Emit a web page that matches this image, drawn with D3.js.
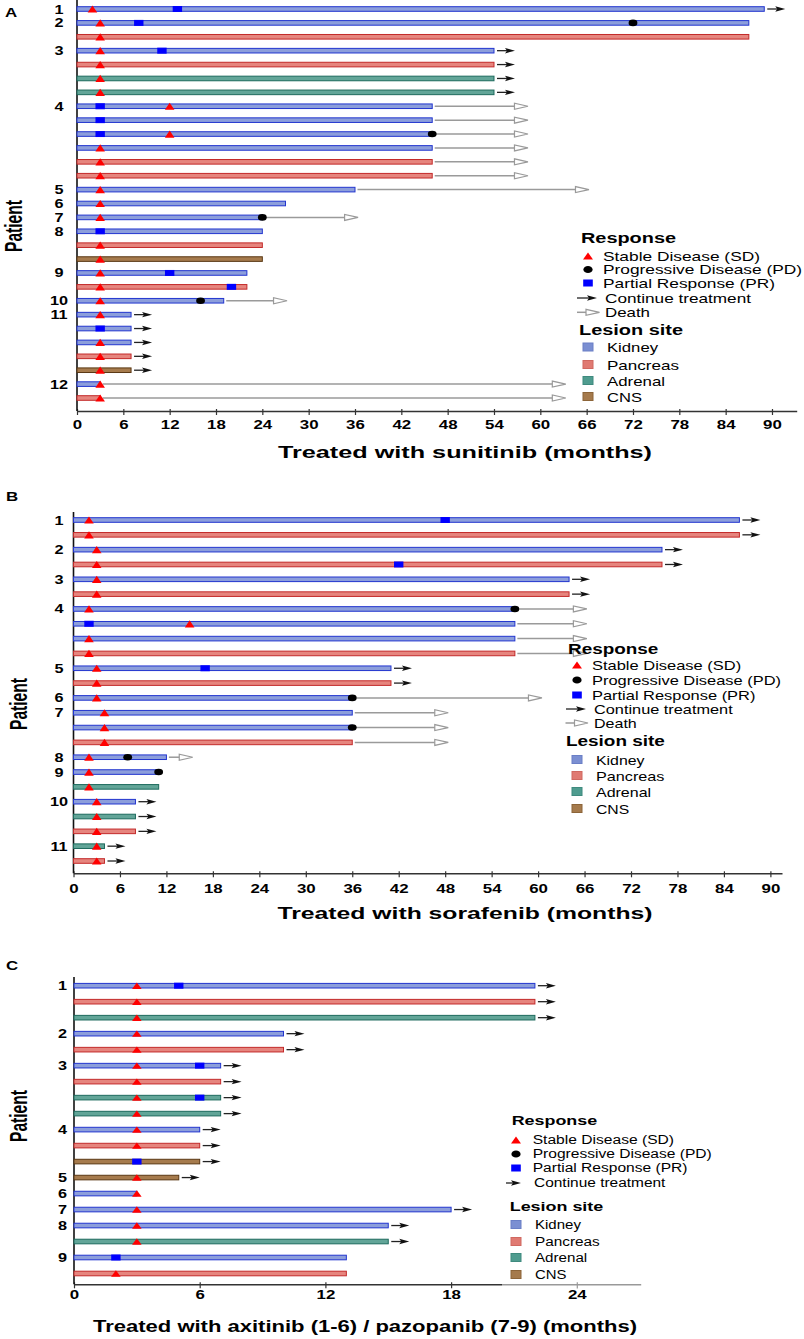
<!DOCTYPE html>
<html><head><meta charset="utf-8">
<script src="https://cdn.jsdelivr.net/npm/d3@7"></script>
<style>body{margin:0;background:#fff} svg{display:block;font-family:"Liberation Sans",Arial,sans-serif}</style>
</head><body><svg id="c" width="804" height="1339"></svg>
<script>
// ---------------- DATA ----------------
const siteNames = ["Kidney","Pancreas","Adrenal","CNS"];
const responseNames = ["Stable Disease (SD)","Progressive Disease (PD)","Partial Response (PR)","Continue treatment","Death"];

// Panel A: sunitinib
const A_title = "Treated with sunitinib (months)";
const A_ticks = [0,6,12,18,24,30,36,42,48,54,60,66,72,78,84,90];
const A_site = ["K","K","P","K","P","A","A","K","K","K","K","P","P","K","K","K","K","P","C","K","P","K","K","K","K","P","C","K","P"];
const A_end  = [89,87,87,54,54,54,54,46,46,46,46,46,46,36,27,24,24,24,24,22,22,19,7,7,7,7,7,3,3];
const A_sd   = [2,3,3,3,3,3,3,12,null,12,3,3,3,3,3,3,null,3,3,3,3,3,3,null,3,3,3,3,3];
const A_pr   = [13,8,null,11,null,null,null,3,3,3,null,null,null,null,null,null,3,null,null,12,20,null,null,3,null,null,null,null,null];
const A_pd   = [null,72,null,null,null,null,null,null,null,46,null,null,null,null,null,24,null,null,null,null,null,16,null,null,null,null,null,null,null];
const A_cont = [1,0,0,1,1,1,1,0,0,0,0,0,0,0,0,0,0,0,0,0,0,0,1,1,1,1,1,0,0];
const A_death= [null,null,null,null,null,null,null,58.4,58.4,58.4,58.4,58.4,58.4,66.3,null,36.4,null,null,null,null,null,27.2,null,null,null,null,null,63.3,63.3];
const A_labelRows = [0,1,3,7,13,14,15,16,19,21,22,27];
const A_labels = ["1","2","3","4","5","6","7","8","9","10","11","12"];

// Panel B: sorafenib
const B_title = "Treated with sorafenib (months)";
const B_ticks = [0,6,12,18,24,30,36,42,48,54,60,66,72,78,84,90];
const B_site = ["K","P","K","P","K","P","K","K","K","P","K","P","K","K","K","P","K","K","A","K","A","P","A","P"];
const B_end  = [86,86,76,76,64,64,57,57,57,57,41,41,36,36,36,36,12,11,11,8,8,8,4,4];
const B_sd   = [2,2,3,3,3,3,2,15,2,2,3,3,3,4,4,4,2,2,2,3,3,3,3,3];
const B_pr   = [48,null,null,42,null,null,null,2,null,null,17,null,null,null,null,null,null,null,null,null,null,null,null,null];
const B_pd   = [null,null,null,null,null,null,57,null,null,null,null,null,36,null,36,null,7,11,null,null,null,null,null,null];
const B_cont = [1,1,1,1,1,1,0,0,0,0,1,1,0,0,0,0,0,0,0,1,1,1,1,1];
const B_death= [null,null,null,null,null,null,66.3,66.3,66.3,66.3,null,null,60.5,48.4,48.4,48.4,15.4,null,null,null,null,null,null,null];
const B_labelRows = [0,2,4,6,10,12,13,16,17,19,22];
const B_labels = ["1","2","3","4","5","6","7","8","9","10","11"];

// Panel C: axitinib / pazopanib
const C_title = "Treated with axitinib (1-6) / pazopanib (7-9) (months)";
const C_ticks = [0,6,12,18,24];
const C_site = ["K","P","A","K","P","K","P","A","A","K","P","C","C","K","K","K","A","K","P"];
const C_end  = [22,22,22,10,10,7,7,7,7,6,6,6,5,3,18,15,15,13,13];
const C_sd   = [3,3,3,3,3,3,3,3,3,3,3,null,3,3,3,3,3,null,2];
const C_pr   = [5,null,null,null,null,6,null,6,null,null,null,3,null,null,null,null,null,2,null];
const C_pd   = [null,null,null,null,null,null,null,null,null,null,null,null,null,null,null,null,null,null,null];
const C_cont = [1,1,1,1,1,1,1,1,1,1,1,1,1,0,1,1,1,0,0];
const C_death= [null,null,null,null,null,null,null,null,null,null,null,null,null,null,null,null,null,null,null];
const C_labelRows = [0,3,5,9,12,13,14,15,17];
const C_labels = ["1","2","3","4","5","6","7","8","9"];

// ---------------- DRAW ----------------
const FONT = '"Liberation Sans",Arial,sans-serif';
const svg = d3.select("#c");
const colors = {
  K:{fill:"#8c9edb",stroke:"#2235cf",leg:"#7b8fd2",legS:"#6a7fc6"},
  P:{fill:"#e6857e",stroke:"#c32a2a",leg:"#e07a72",legS:"#d06860"},
  A:{fill:"#62a598",stroke:"#1d6a5d",leg:"#4f9c8f",legS:"#3f8a7e"},
  C:{fill:"#a67b4d",stroke:"#5a3814",leg:"#a57a4c",legS:"#8c6438"}
};
const siteCodes = ["K","P","A","C"];

function sText(g, x, y, str, o) {
  const sx = o.sx || 1;
  const t = g.append("text")
    .attr("transform", `translate(${x},${y}) scale(${sx},1)`)
    .attr("font-family", FONT)
    .attr("font-size", o.size)
    .attr("font-weight", o.weight || "normal")
    .attr("text-anchor", o.anchor || "start")
    .attr("fill", "#000").text(str);
  if (o.len) t.attr("textLength", o.len / sx).attr("lengthAdjust", "spacingAndGlyphs");
  return t;
}
function triangle(g, x, y, hw, hh) {
  g.append("path").attr("d", `M${x},${y-hh}L${x+hw},${y+hh}L${x-hw},${y+hh}Z`).attr("fill", "#ff0000");
}
function contArrow(g, xa, xb, y) {
  g.append("line").attr("x1", xa).attr("x2", xb - 6).attr("y1", y).attr("y2", y).attr("stroke", "#222").attr("stroke-width", 1.3);
  g.append("path").attr("d", `M${xb},${y}L${xb-10},${y-2.7}L${xb-8},${y}L${xb-10},${y+2.7}Z`).attr("fill", "#111");
}
function deathArrow(g, xa, xb, y) {
  g.append("line").attr("x1", xa).attr("x2", xb - 13).attr("y1", y).attr("y2", y).attr("stroke", "#9a9a9a").attr("stroke-width", 1.5);
  g.append("path").attr("d", `M${xb},${y}L${xb-13.5},${y-3}L${xb-13.5},${y+3}Z`).attr("fill", "#fff").attr("stroke", "#9a9a9a").attr("stroke-width", 1.2);
}

function drawPanel(P, L) {
  const g = svg.append("g");
  const n = P.site.length;
  const x = d3.scaleLinear().domain([0, L.dmax]).range([L.x0, L.x1]);
  const y = d3.scaleLinear().domain([0, n - 1]).range([L.y1, L.yn]);
  const rows = d3.range(n);

  // x axis
  const ax = g.append("g").attr("transform", `translate(0,${L.axisY})`)
    .call(d3.axisBottom(x).tickValues(P.ticks).tickSize(4).tickSizeOuter(0).tickFormat(d3.format("d")));
  ax.attr("font-family", null).attr("font-size", null);
  ax.select(".domain").attr("stroke", "#333").attr("stroke-width", 1.5);
  ax.selectAll(".tick line").attr("stroke", "#333").attr("stroke-width", 1.2).attr("y1", -2);
  ax.selectAll(".tick text").attr("y", L.tickBase).attr("dy", null)
    .attr("font-family", FONT).attr("font-size", 12.5).attr("font-weight", "bold").attr("fill", "#000")
    .attr("transform", "scale(1.35,1)");

  // y axis line
  g.append("line").attr("x1", L.x0).attr("x2", L.x0).attr("y1", L.yTop).attr("y2", L.axisY)
    .attr("stroke", "#111").attr("stroke-width", 1.6);

  // bars
  g.selectAll("rect.bar").data(rows).join("rect").attr("class", "bar")
    .attr("x", x(0)).attr("y", i => y(i) - 2.3)
    .attr("width", i => x(P.end[i]) - x(0)).attr("height", 4.6)
    .attr("fill", i => colors[P.site[i]].fill).attr("stroke", i => colors[P.site[i]].stroke).attr("stroke-width", 1);

  // outcomes
  rows.forEach(i => {
    if (P.cont[i]) contArrow(g, x(P.end[i]) + 3, x(P.end[i]) + 21, y(i));
    if (P.death[i] != null) deathArrow(g, x(P.end[i]) + 2.5, x(P.death[i]), y(i));
  });

  // markers
  rows.forEach(i => {
    if (P.pr[i] != null) g.append("rect").attr("x", x(P.pr[i]) - 4.7).attr("y", y(i) - 3).attr("width", 9.4).attr("height", 6).attr("fill", "#0000ff");
    if (P.sd[i] != null) triangle(g, x(P.sd[i]), y(i), 4.8, L.triH);
    if (P.pd[i] != null) g.append("ellipse").attr("cx", x(P.pd[i])).attr("cy", y(i)).attr("rx", 4.4).attr("ry", 3.3).attr("fill", "#000");
  });

  // patient labels
  P.labelRows.forEach((r, k) => sText(g, L.labelX, y(r) + 4.5, P.labels[k], {size: 12.5, weight: "bold", anchor: "middle", sx: 1.3}));

  // titles
  g.append("text").attr("transform", `translate(${L.patX},${L.patY}) rotate(-90)`)
    .attr("font-family", FONT).attr("font-size", 24).attr("font-weight", "bold").attr("text-anchor", "middle")
    .attr("textLength", 52).attr("lengthAdjust", "spacingAndGlyphs").text("Patient");
  sText(g, L.titleX, L.titleY, P.title, {size: 16, weight: "bold", anchor: "middle", len: L.titleLen});
  sText(g, L.letX, L.letY, L.letter, {size: 13, weight: "bold", sx: 1.3});
}

function drawLegend(c) {
  const g = svg.append("g");
  if (c.veil) g.append("rect").attr("x", c.veil[0]).attr("y", c.veil[1]).attr("width", c.veil[2]).attr("height", c.veil[3]).attr("fill", "#fff").attr("opacity", 0.5);
  const k = c.k;
  const respLen = [157, 199, 172, 146, 45];
  const siteLen = [51, 72, 58, 35];
  sText(g, c.titleX, c.respY + c.bOff, "Response", {size: c.bSize, weight: "bold", len: 95 * k});
  const nItems = c.items.length;
  for (let j = 0; j < nItems; j++) {
    const yy = c.items[j];
    const tx = j >= 3 ? c.contTextX : c.textX;
    sText(g, tx, yy + c.rOff, responseNames[j], {size: c.rSize, len: respLen[j] * k});
    if (j === 0) triangle(g, c.symX, yy, 5, 3.6);
    if (j === 1) g.append("ellipse").attr("cx", c.symX).attr("cy", yy).attr("rx", 4.6).attr("ry", 3.6).attr("fill", "#000");
    if (j === 2) g.append("rect").attr("x", c.symX - 4.8).attr("y", yy - 3.5).attr("width", 9.6).attr("height", 7).attr("fill", "#0000ff");
    if (j === 3) contArrow(g, c.cont[0], c.cont[1], yy);
    if (j === 4) deathArrow(g, c.death[0], c.death[1], yy);
  }
  sText(g, c.titleX - 2, c.lesY + c.bOff, "Lesion site", {size: c.bSize, weight: "bold", len: 104 * k});
  siteNames.forEach((s, j) => {
    const yy = c.sites[j];
    const code = siteCodes[j];
    g.append("rect").attr("x", c.sqX).attr("y", yy - 4.5).attr("width", 10).attr("height", 8)
      .attr("fill", colors[code].leg).attr("stroke", colors[code].legS).attr("stroke-width", 1);
    sText(g, c.siteTextX, yy + c.rOff, s, {size: c.rSize, len: siteLen[j] * k});
  });
}

drawPanel({site:A_site,end:A_end,sd:A_sd,pr:A_pr,pd:A_pd,cont:A_cont,death:A_death,labelRows:A_labelRows,labels:A_labels,ticks:A_ticks,title:A_title},
  {x0:77,x1:796.7,dmax:93.2,y1:9,yn:398,axisY:411,yTop:0,tickBase:18.5,triH:3.6,labelX:59,patX:21.7,patY:226,
   titleX:465,titleY:458,titleLen:374,letter:"A",letX:5,letY:16.7});
drawPanel({site:B_site,end:B_end,sd:B_sd,pr:B_pr,pd:B_pd,cont:B_cont,death:B_death,labelRows:B_labelRows,labels:B_labels,ticks:B_ticks,title:B_title},
  {x0:73.5,x1:782,dmax:91.5,y1:520,yn:861,axisY:873.3,yTop:512,tickBase:19.7,triH:3.6,labelX:59,patX:26.7,patY:704,
   titleX:465,titleY:918.5,titleLen:375,letter:"B",letX:6,letY:500.7});
drawPanel({site:C_site,end:C_end,sd:C_sd,pr:C_pr,pd:C_pd,cont:C_cont,death:C_death,labelRows:C_labelRows,labels:C_labels,ticks:C_ticks,title:C_title},
  {x0:74,x1:640.7,dmax:27.05,y1:985.7,yn:1273.5,axisY:1284.3,yTop:977,tickBase:14.5,triH:3.2,labelX:62.5,patX:27,patY:1116,
   titleX:365,titleY:1331.5,titleLen:544,letter:"C",letX:6,letY:970});

drawLegend({k:1,titleX:581,respY:238,bOff:5,bSize:14,rOff:4.6,rSize:13,symX:588,textX:603,contTextX:605,siteTextX:607,sqX:583,
  items:[256,269.5,283,298,312.3],cont:[577,597],death:[577,599.5],lesY:330,sites:[347.5,365,381,397]});
drawLegend({k:0.95,titleX:568,respY:649,bOff:5,bSize:14,rOff:4.6,rSize:13,symX:577,textX:592,contTextX:594,siteTextX:596,sqX:572,
  items:[665,680,695,709,723],cont:[566,586],death:[565.5,588],lesY:741,sites:[760,776,792,809]});
drawLegend({k:0.9,titleX:511.7,respY:1120.7,bOff:4.7,bSize:13,rOff:4.3,rSize:12,symX:516,textX:532.7,contTextX:534,siteTextX:535,sqX:511,
  items:[1140,1154,1168,1183],cont:[506,521],death:null,lesY:1206,sites:[1225,1242,1258,1275],veil:[502,1106,143,182]});
</script>
</body></html>
